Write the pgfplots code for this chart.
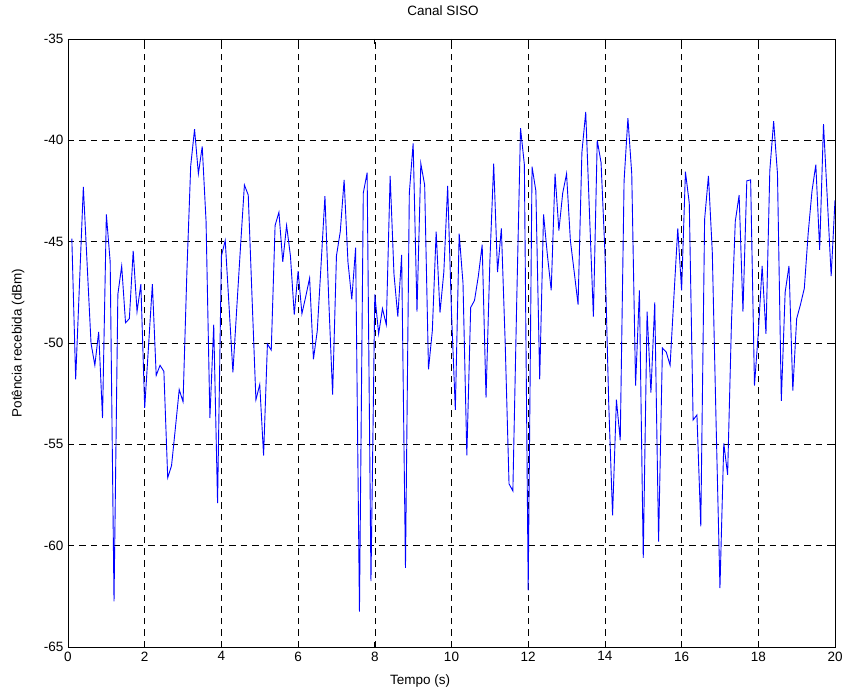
\documentclass[border=0pt]{standalone}
\usepackage{fontspec}
\setmainfont{Liberation Sans}
\usepackage{pgfplots}
\usepackage{pgfplotstable}
\pgfplotsset{compat=1.18}
\pgfplotstableread{
t p
0.1 -44.85
0.2 -51.8
0.3 -47.05
0.4 -42.3
0.5 -46.15
0.6 -50.0
0.7 -51.1
0.8 -49.45
0.9 -53.7
1.0 -43.65
1.1 -46.0
1.2 -62.75
1.3 -47.6
1.4 -46.2
1.5 -49.0
1.6 -48.8
1.7 -45.45
1.8 -48.45
1.9 -47.1
2.0 -53.2
2.1 -50.15
2.2 -47.1
2.3 -51.6
2.4 -51.1
2.5 -51.4
2.6 -56.65
2.7 -56.05
2.8 -54.2
2.9 -52.3
3.0 -52.9
3.1 -46.5
3.2 -41.25
3.3 -39.45
3.4 -41.65
3.5 -40.3
3.6 -44.0
3.7 -53.7
3.8 -49.1
3.9 -57.9
4.0 -45.7
4.1 -44.95
4.2 -48.2
4.3 -51.45
4.4 -48.3
4.5 -45.2
4.6 -42.2
4.7 -42.7
4.8 -47.8
4.9 -52.8
5.0 -52.05
5.1 -55.55
5.2 -50.05
5.3 -50.35
5.4 -44.2
5.5 -43.55
5.6 -46.0
5.7 -44.2
5.8 -45.7
5.9 -48.6
6.0 -46.45
6.1 -48.55
6.2 -47.7
6.3 -46.8
6.4 -50.8
6.5 -49.4
6.6 -46.1
6.7 -42.75
6.8 -47.9
6.9 -52.55
7.0 -45.7
7.1 -44.5
7.2 -41.95
7.3 -46.0
7.4 -47.85
7.5 -45.3
7.6 -63.25
7.7 -42.6
7.8 -41.6
7.9 -61.75
8.0 -47.6
8.1 -49.55
8.2 -48.3
8.3 -49.1
8.4 -41.75
8.5 -46.6
8.6 -48.7
8.7 -45.65
8.8 -61.1
8.9 -42.6
9.0 -40.15
9.1 -48.45
9.2 -41.15
9.3 -42.2
9.4 -51.3
9.5 -49.4
9.6 -44.5
9.7 -48.5
9.8 -46.5
9.9 -42.25
10.0 -48.5
10.1 -53.3
10.2 -44.6
10.3 -47.05
10.4 -55.55
10.5 -48.25
10.6 -47.9
10.7 -46.7
10.8 -45.15
10.9 -52.7
11.0 -46.0
11.1 -41.15
11.2 -46.5
11.3 -44.35
11.4 -50.0
11.5 -56.95
11.6 -57.3
11.7 -48.0
11.8 -39.4
11.9 -41.2
12.0 -62.2
12.1 -41.3
12.2 -42.5
12.3 -51.8
12.4 -43.65
12.5 -45.65
12.6 -47.4
12.7 -41.65
12.8 -44.45
12.9 -42.6
13.0 -41.65
13.1 -44.95
13.2 -46.5
13.3 -48.1
13.4 -40.6
13.5 -38.6
13.6 -43.7
13.7 -48.7
13.8 -40.0
13.9 -41.1
14.0 -45.5
14.1 -53.0
14.2 -58.5
14.3 -52.8
14.4 -54.8
14.5 -42.0
14.6 -38.9
14.7 -41.65
14.8 -52.1
14.9 -47.4
15.0 -60.6
15.1 -48.45
15.2 -52.45
15.3 -48.0
15.4 -59.8
15.5 -50.25
15.6 -50.45
15.7 -51.1
15.8 -47.7
15.9 -44.35
16.0 -47.4
16.1 -41.55
16.2 -43.1
16.3 -53.8
16.4 -53.55
16.5 -59.05
16.6 -43.9
16.7 -41.75
16.8 -45.5
16.9 -54.0
17.0 -62.1
17.1 -54.95
17.2 -56.5
17.3 -49.0
17.4 -44.0
17.5 -42.7
17.6 -48.45
17.7 -42.0
17.8 -41.95
17.9 -52.1
18.0 -49.5
18.1 -46.2
18.2 -49.55
18.3 -41.5
18.4 -39.05
18.5 -41.65
18.6 -52.85
18.7 -47.5
18.8 -46.2
18.9 -52.35
19.0 -48.8
19.1 -48.1
19.2 -47.3
19.3 -44.6
19.4 -42.5
19.5 -41.2
19.6 -45.4
19.7 -39.2
19.8 -42.9
19.9 -46.7
20.0 -42.95
}\siso
\begin{document}
\fontsize{13.5bp}{16bp}\selectfont
\begin{tikzpicture}
\useasboundingbox (-68bp,-43bp) rectangle (780bp,647bp);
\begin{axis}[
  at={(0,0)}, anchor=south west,
  width=767bp, height=608bp, scale only axis,
  xmin=0, xmax=20, ymin=-65, ymax=-35,
  xtick={0,2,...,20}, ytick={-65,-60,...,-35},
  xtick pos=both, ytick pos=both,
  tick align=inside,
  major tick length=5bp,
  grid=major,
  major grid style={black, dash pattern=on 6.5bp off 5bp, line width=0.5bp},
  axis line style={black, line width=0.8bp},
  tick style={black, line width=0.8bp},
  /pgf/number format/assume math mode=true,
  ticklabel style={font=\fontsize{13.5bp}{16bp}\selectfont},
  title={Canal SISO},
  xlabel={Tempo (s)},
  ylabel={Potência recebida (dBm)},
  title style={at={(axis description cs:0.4889,1.0362)}, anchor=center, font=\fontsize{13.5bp}{16bp}\selectfont},
  xlabel style={at={(axis description cs:0.459,-0.0559)}, anchor=center, font=\fontsize{13.5bp}{16bp}\selectfont},
  ylabel style={at={(axis description cs:-0.0652,0.5)}, anchor=center, font=\fontsize{13.5bp}{16bp}\selectfont},
]
\addplot[color={rgb,255:red,0;green,0;blue,255}, line width=0.9bp, mark=none] table[x=t, y=p] {\siso};
\end{axis}
\end{tikzpicture}
\end{document}
